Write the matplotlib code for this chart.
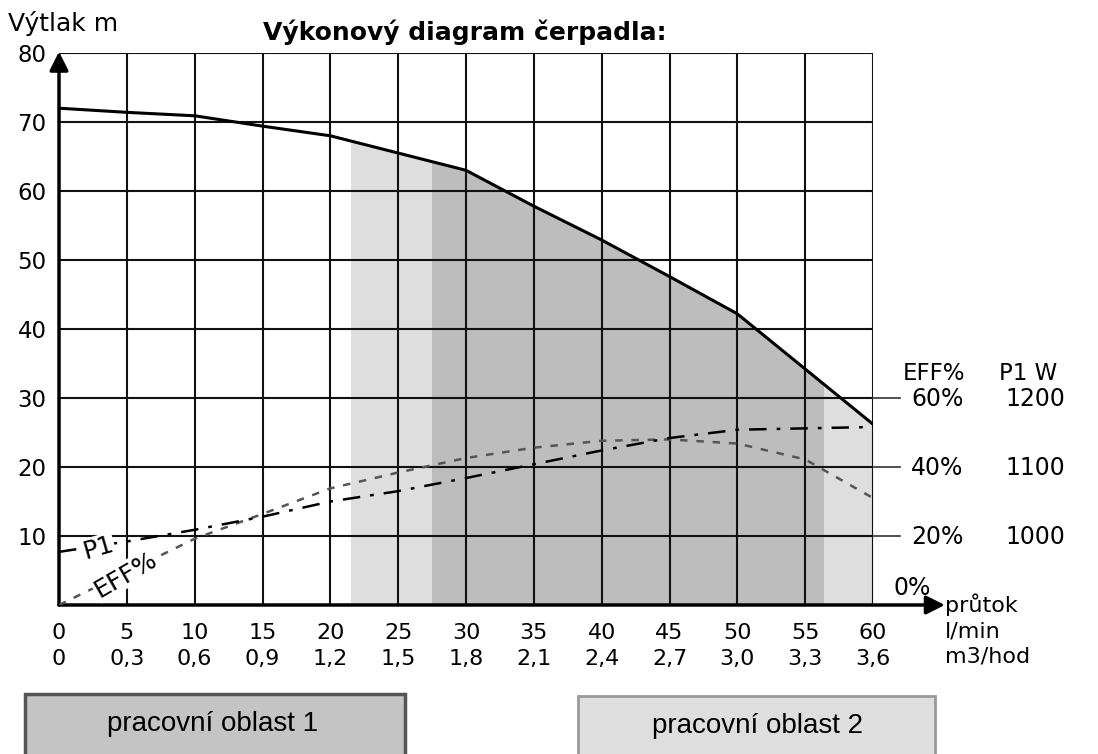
import numpy as np
import matplotlib
matplotlib.use("Agg")
import matplotlib.pyplot as plt
from matplotlib.patches import Rectangle

plt.rcParams['font.family'] = ['DejaVu Sans']

# průtok l/min, m3/hod
flow = [0, 5, 10, 15, 20, 25, 30, 35, 40, 45, 50, 55, 60]
flow_m3 = ["0", "0,3", "0,6", "0,9", "1,2", "1,5", "1,8", "2,1", "2,4", "2,7", "3,0", "3,3", "3,6"]

# výtlak m
head = [72.0, 71.4, 70.9, 69.4, 68.0, 65.5, 63.0, 57.8, 52.9, 47.6, 42.2, 34.2, 26.2]

# účinnost EFF% (v měřítku levé osy)
eff_x = [0, 10, 15, 20, 25, 30, 35, 40, 45, 50, 55, 60]
eff_y = [0, 9.6, 13.2, 16.9, 19.2, 21.3, 22.8, 23.8, 24.0, 23.4, 21.1, 15.5]

# příkon P1 (v měřítku levé osy)
p1_x = [0, 5, 10, 15, 20, 25, 30, 35, 40, 45, 50, 55, 60]
p1_y = [7.7, 9.2, 10.9, 12.8, 15.0, 16.5, 18.4, 20.4, 22.4, 24.2, 25.4, 25.6, 25.8]

# pracovní oblasti
area2 = (21.5, 60)
area1 = (27.5, 56.3)

right_levels = [30, 20, 10]
eff_labels = ["60%", "40%", "20%"]
p1_labels = ["1200", "1100", "1000"]

FS = 16

fig = plt.figure(figsize=(10.98, 7.54), dpi=100)
ax = fig.add_axes([59 / 1098, 149 / 754, 814 / 1098, 552 / 754])
ax.set_xlim(0, 60)
ax.set_ylim(0, 80)

# oblasti pod křivkou
for (x0, x1), col in [(area2, '#dedede'), (area1, '#bdbdbd')]:
    f = ax.fill_between(flow, head, 0, color=col, lw=0, zorder=0.5)
    clip = Rectangle((x0, 0), x1 - x0, 80, transform=ax.transData)
    f.set_clip_path(clip)

ax.set_xticks(flow)
ax.set_xticklabels([f"{a}\n{b}" for a, b in zip(flow, flow_m3)], fontsize=FS,
                   linespacing=1.4)
ax.set_yticks(range(0, 81, 10))
ax.set_yticklabels([""] + [str(v) for v in range(10, 81, 10)], fontsize=16.5)
ax.tick_params(length=0, pad=9)
ax.tick_params(axis='x', pad=13)
ax.grid(True, color='#111111', lw=1.5)
for s in ['top', 'right', 'left', 'bottom']:
    ax.spines[s].set_visible(False)

# prodloužení čar k pravé stupnici
for y in right_levels:
    ax.plot([60, 62], [y, y], color='#333333', lw=1.2, clip_on=False)

# osy se šipkami
ax.annotate('', xy=(65.3, 0), xytext=(0, 0), annotation_clip=False,
            arrowprops=dict(arrowstyle='-|>', lw=2.5, color='black', mutation_scale=28,
                            shrinkA=0, shrinkB=0))
ax.annotate('', xy=(0, 80.2), xytext=(0, 0), annotation_clip=False,
            arrowprops=dict(arrowstyle='-|>', lw=2.5, color='black', mutation_scale=28,
                            shrinkA=0, shrinkB=0))

# křivky
ax.plot(flow, head, color='black', lw=2.2, zorder=4)
ax.plot(eff_x, eff_y, color='#555555', lw=1.8, dashes=(3, 3.5), zorder=4)
ax.plot(p1_x, p1_y, color='black', lw=1.8, dashes=(7, 4, 1.5, 4), zorder=4)

ax.text(2.9, 8.2, "P1", fontsize=18, rotation=16, ha='center', va='center', zorder=5,
        bbox=dict(facecolor='white', edgecolor='none', pad=0.8))
ax.text(4.9, 4.4, "EFF%", fontsize=18, rotation=30, ha='center', va='center', zorder=5,
        bbox=dict(facecolor='white', edgecolor='none', pad=0.8))

# pravá stupnice
ax.text(62.2, 33.5, "EFF%", fontsize=16.5, ha='left', va='center')
ax.text(69.3, 33.5, "P1 W", fontsize=16.5, ha='left', va='center')
for y, e, p in zip(right_levels, eff_labels, p1_labels):
    ax.text(62.8, y - 0.2, e, fontsize=17, ha='left', va='center')
    ax.text(72.0, y - 0.2, p, fontsize=17, ha='center', va='center')
ax.text(61.5, 2.4, "0%", fontsize=17, ha='left', va='center')

# popis osy x
ax.text(65.3, 0, "průtok", fontsize=FS, ha='left', va='center')
ax.text(65.3, -3.9, "l/min", fontsize=FS, ha='left', va='center')
ax.text(65.3, -7.4, "m3/hod", fontsize=FS, ha='left', va='center')

fig.text(8 / 1098, 1 - 24 / 754, "Výtlak m", fontsize=18, ha='left', va='center')
fig.text(465 / 1098, 1 - 32 / 754, "Výkonový diagram čerpadla:", fontsize=18,
         fontweight='bold', ha='center', va='center')

# legenda pracovních oblastí
fig.patches.append(Rectangle((25 / 1098, -0.05), 380 / 1098, (754 - 694) / 754 + 0.05,
                             transform=fig.transFigure, facecolor='#c4c4c4',
                             edgecolor='#555555', lw=2.5))
fig.patches.append(Rectangle((578 / 1098, -0.05), 357 / 1098, (754 - 696) / 754 + 0.05,
                             transform=fig.transFigure, facecolor='#dedede',
                             edgecolor='#999999', lw=2))
fig.text(213 / 1098, 1 - 724 / 754, "pracovní oblast 1", fontsize=20,
         family=['Liberation Sans'], ha='center', va='center')
fig.text(757 / 1098, 1 - 726 / 754, "pracovní oblast 2", fontsize=20,
         family=['Liberation Sans'], ha='center', va='center')

fig.savefig("out.png", dpi=100)
